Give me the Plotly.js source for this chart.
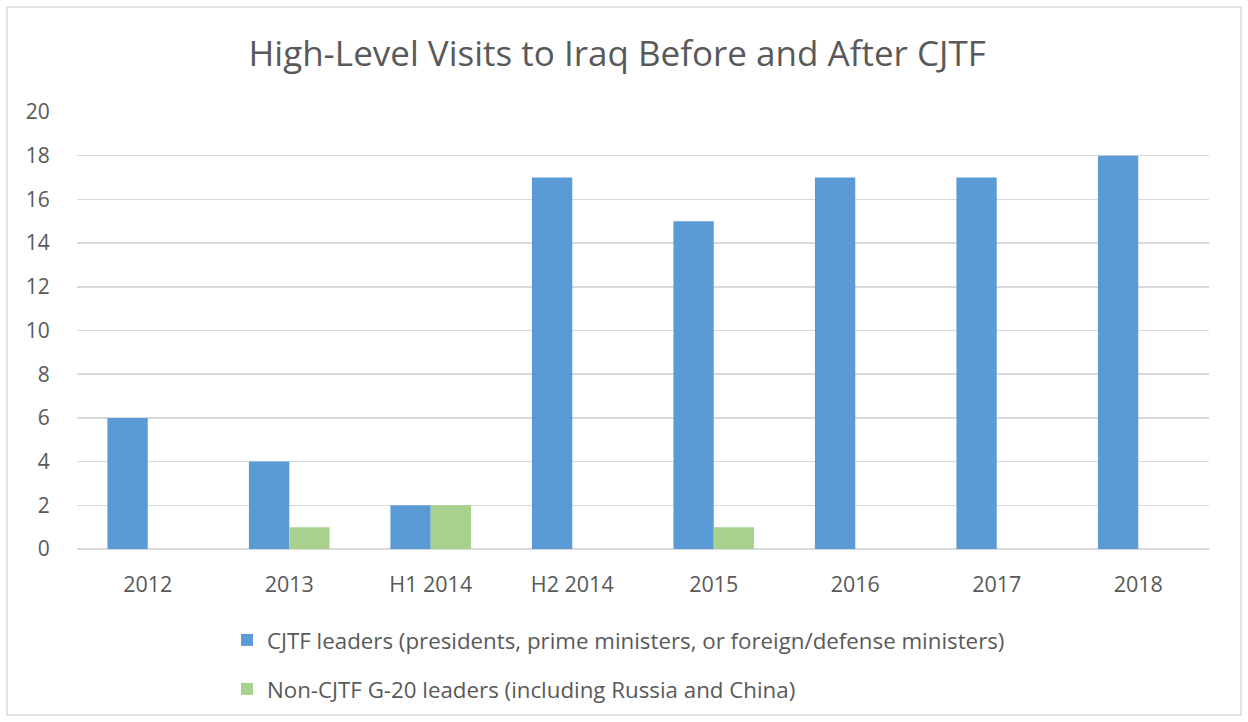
<!DOCTYPE html>
<html>
<head>
<meta charset="utf-8">
<script src="https://cdn.plot.ly/plotly-3.0.1.min.js"></script>
<style>html,body{margin:0;padding:0;background:#fff;}#chart{width:1248px;height:722px;}</style>
</head>
<body>
<div id="chart"></div>
<script>
const categories = ["2012", "2013", "H1 2014", "H2 2014", "2015", "2016", "2017", "2018"];
const cjtfLeaders = [6, 4, 2, 17, 15, 17, 17, 18];
const nonCjtfLeaders = [0, 1, 2, 0, 1, 0, 0, 0];
const seriesNames = [
  "CJTF leaders (presidents, prime ministers, or foreign/defense ministers)",
  "Non-CJTF G-20 leaders (including Russia and China)"
];
const yTicks = [0, 2, 4, 6, 8, 10, 12, 14, 16, 18, 20];

const fontFam = "'Open Sans', Lato, sans-serif";
const textColor = "#595959";

const traces = [
  {type: "bar", x: categories, y: cjtfLeaders, name: seriesNames[0], legendgroup: "a",
   marker: {color: "#5B9BD5"}},
  {type: "bar", x: categories, y: nonCjtfLeaders, name: seriesNames[1], legendgroup: "b",
   marker: {color: "#A9D18E"}}
];

const layout = {
  width: 1248, height: 722,
  margin: {l: 77, r: 39, t: 112, b: 173},
  paper_bgcolor: "#fff", plot_bgcolor: "#fff",
  font: {family: fontFam, color: textColor, size: 21},
  title: {text: "High-Level Visits to Iraq Before and After CJTF", font: {size: 35, color: textColor, family: fontFam},
          x: 0.4945, xanchor: "center", y: 0.925, yanchor: "middle"},
  barmode: "group", bargap: 0.43, bargroupgap: 0,
  xaxis: {type: "category", showgrid: false, zeroline: false, showline: false,
          ticks: "outside", ticklen: 16, tickcolor: "rgba(0,0,0,0)",
          tickfont: {size: 21.5, color: textColor}},
  yaxis: {range: [0, 20], tickvals: yTicks, showgrid: true, gridcolor: "#d9d9d9", gridwidth: 1.5,
          zeroline: true, zerolinecolor: "#d9d9d9", zerolinewidth: 1.5, showline: false,
          ticks: "outside", ticklen: 22, tickcolor: "rgba(0,0,0,0)",
          tickfont: {size: 21, color: textColor}, fixedrange: true},
  showlegend: true,
  legend: {orientation: "v", x: 0.1325, xanchor: "left", y: -0.16, yanchor: "top",
           font: {size: 22.3, color: textColor}, tracegroupgap: 17, traceorder: "grouped",
           itemwidth: 30, bgcolor: "rgba(0,0,0,0)"},
  shapes: [{type: "rect", xref: "paper", yref: "paper",
            x0: -0.0618, x1: 1.0283, y0: -0.380, y1: 1.240,
            line: {color: "#d9d9d9", width: 1.5}, fillcolor: "rgba(0,0,0,0)", layer: "below"}]
};

Plotly.newPlot("chart", traces, layout, {displayModeBar: false, staticPlot: true});
</script>
</body>
</html>
